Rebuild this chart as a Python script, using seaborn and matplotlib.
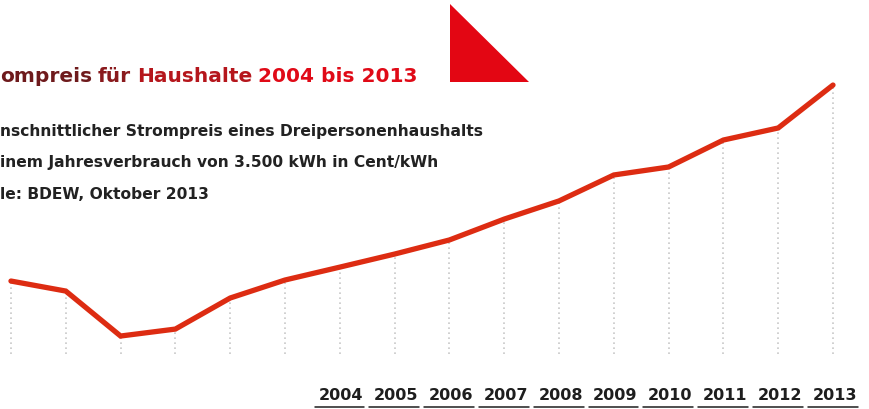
import pandas as pd
import seaborn as sns
import matplotlib
matplotlib.use('Agg')
from matplotlib import pyplot as plt
from matplotlib.patches import Polygon

# Data (Cent/kWh)
years = [1998, 1999, 2000, 2001, 2002, 2003, 2004, 2005,
         2006, 2007, 2008, 2009, 2010, 2011, 2012, 2013]
price = [17.18, 16.59, 13.94, 14.35, 16.18, 17.24, 18.00, 18.77,
         19.60, 20.83, 21.90, 23.43, 23.90, 25.49, 26.20, 28.73]
year_labels = ['2004', '2005', '2006', '2007', '2008',
               '2009', '2010', '2011', '2012', '2013']

title_words = ['ompreis', 'für', 'Haushalte', '2004 bis 2013']
title_colors = ['#6e1a1c', '#8a1a1d', '#b5161c', '#e00a17']
sub_lines = ['nschnittlicher Strompreis eines Dreipersonenhaushalts',
             'inem Jahresverbrauch von 3.500 kWh in Cent/kWh',
             'le: BDEW, Oktober 2013']

df = pd.DataFrame({'year': years, 'price': price})

sns.set_style('white')
plt.rcParams['font.family'] = ['DejaVu Sans']

fig = plt.figure(figsize=(8.7, 4.1), dpi=100)
ax = fig.add_axes([0, 0, 1, 1])

# dotted drop lines from each point down to the baseline
ax.vlines(df.year, 12.88, df.price, colors='#c8c8c8', linewidth=1.2,
          linestyles=(0, (1, 2)), zorder=1)
sns.lineplot(data=df, x='year', y='price', ax=ax, color='#dd2c12',
             linewidth=3.8, zorder=3)
ax.lines[-1].set_solid_joinstyle('miter')

ax.set_xlim(1997.8, 2013.675)
ax.set_ylim(9.64, 33.8)
ax.axis('off')

# year labels with underlines
xt = ax.get_xaxis_transform()
for lab in year_labels:
    yr = int(lab)
    ax.text(yr + 0.03, 10 / 410, lab, transform=xt, ha='center', va='baseline',
            fontsize=11.5, fontweight='bold', color='#1e1e1e')
    ax.plot([yr - 0.46, yr + 0.45], [1.6 / 410, 1.6 / 410], transform=xt,
            color='#1e1e1e', linewidth=1.1, clip_on=False)

# title, words coloured from dark to bright red
renderer = fig.canvas.get_renderer()
x = 0
space = 6
for w, c in zip(title_words, title_colors):
    t = fig.text(x / 870, 328 / 410, w, color=c, fontsize=14.5,
                 fontweight='bold', va='baseline', ha='left')
    x = t.get_window_extent(renderer).x1 + space

# subtitle lines
for i, line in enumerate(sub_lines):
    fig.text(0, (410 - 136 - i * 31.5) / 410, line, fontsize=11.2,
             fontweight='bold', color='#222222', va='baseline', ha='left')

# red triangle
tri = Polygon([(450, 405), (450, 327), (529, 327)], closed=True,
              transform=None, facecolor='#e30613', edgecolor='none')
fig.patches.append(tri)

fig.savefig('out.png', dpi=100)
